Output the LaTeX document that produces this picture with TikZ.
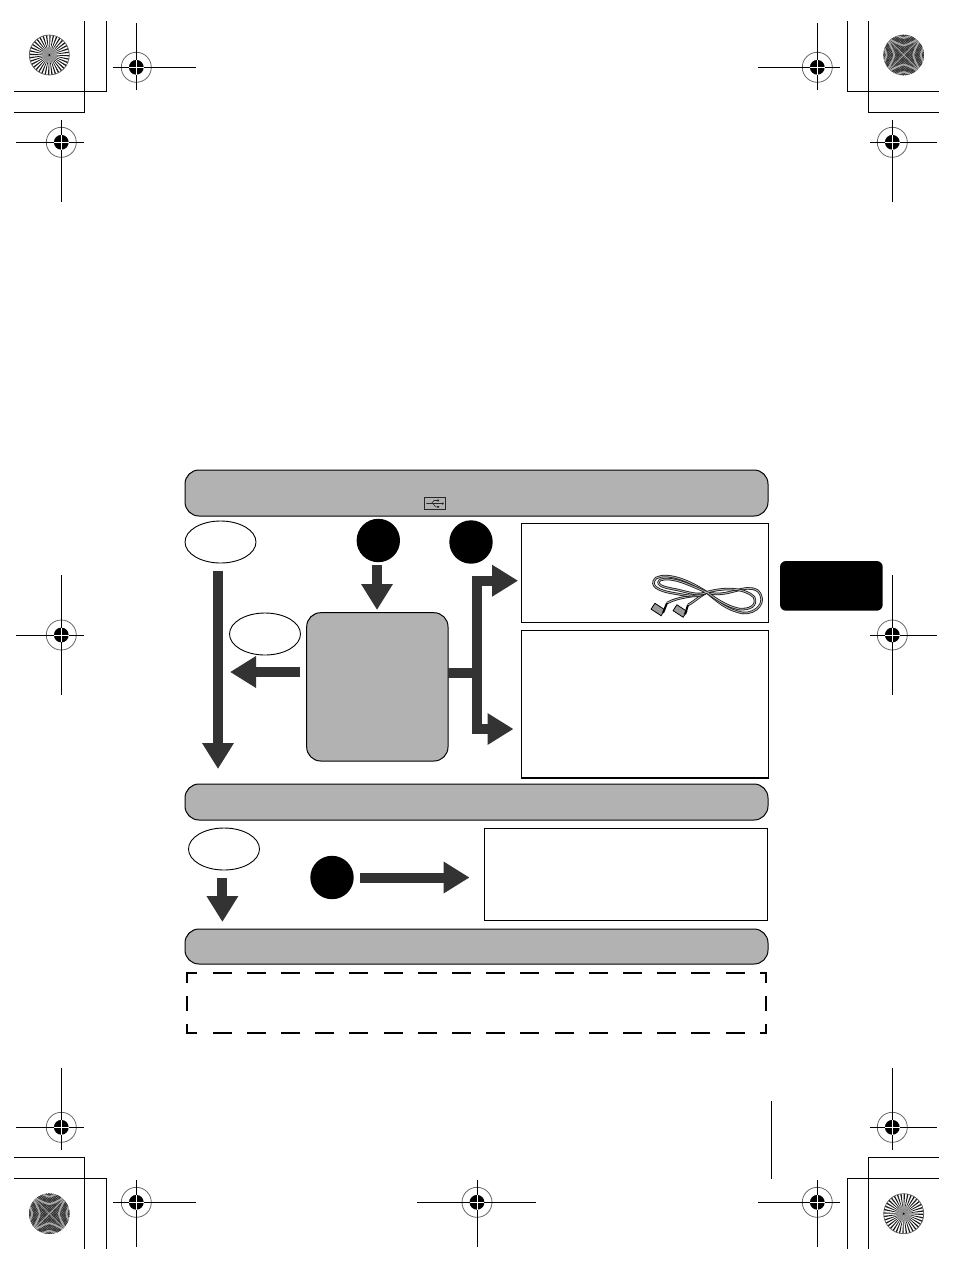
\documentclass[tikz,border=0pt]{standalone}
\usepackage{tikz}
\usetikzlibrary{arrows.meta,shapes.geometric}

\begin{document}
\begin{tikzpicture}[x=1pt,y=-1pt]
    \definecolor{bargray}{HTML}{B2B2B2}
    \definecolor{arrowgray}{HTML}{333333}
    \tikzstyle{bar}=[draw=black,fill=bargray,rounded corners=14pt,line width=1pt,inner sep=0pt,outer sep=0pt,minimum width=583pt]
    \tikzstyle{oval}=[draw=black,fill=white,ellipse,line width=0.9pt,inner sep=0pt,outer sep=0pt,minimum width=71pt,minimum height=42pt]
    \tikzstyle{dot}=[circle,fill=black,inner sep=0pt,outer sep=0pt,minimum size=43.4pt]
    \tikzstyle{frame}=[draw=black,fill=white,line width=1pt,inner sep=0pt,outer sep=0pt]
    \tikzstyle{bigarrow}=[draw=arrowgray,line width=10pt,-{Triangle[length=26pt,width=30pt]}]
    \tikzstyle{stem}=[draw=arrowgray,line width=10pt]
    \tikzstyle{cord}=[draw=black!90,double=black!30,line width=0.8pt,double distance=0.9pt]
    \tikzstyle{plug}=[draw=black,fill=black!40,line width=0.8pt,rotate=-33,inner sep=0pt,outer sep=0pt,minimum width=12pt,minimum height=7pt]
    \tikzstyle{dashside}=[line width=2.7pt,line cap=rect]
    \tikzstyle{band}=[black!25,line width=1.8pt,opacity=0.8]
    \useasboundingbox (0,0) rectangle (954,1270);

    \foreach \px/\py/\pl/\pr/\pu/\pd in {136.3/67.3/113/195.7/23/89.7,61.3/142.3/16/84/120/201.7,
            817.3/67.3/758/840/23/89.7,892.3/142.3/870/936.7/120/201.7,61.3/635/16/84/575/695,
            892.3/635/870/936.7/575/695,61.3/1127.3/16/84/1068/1149.7,136.3/1202.3/113/195.7/1180/1246.7,
            477/1202.3/417/536/1180/1246.7,892.3/1127.3/870/936.7/1068/1149.7,817.3/1202.3/758/840/1180/1246.7}{
        \draw[black!60,line width=0.8pt] (\px,\py) circle (15);
        \draw[black,line width=1pt] (\pl,\py) -- (\pr,\py) (\px,\pu) -- (\px,\pd);
        \fill[black] (\px,\py) circle (7.4);
        \draw[white,line width=1pt] (\px-7.4,\py) -- (\px+7.4,\py) (\px,\py-7.4) -- (\px,\py+7.4);
    }

    \draw[black,line width=1pt] (84.3,21) -- (84.3,112.3) -- (14,112.3) (106.3,21) -- (106.3,91) -- (14,91);
    \draw[black,line width=1pt] (847.3,21) -- (847.3,91) -- (938.7,91) (868.3,21) -- (868.3,112.3) -- (938.7,112.3);
    \draw[black,line width=1pt] (14,1157.3) -- (84.3,1157.3) -- (84.3,1248.7) (14,1178.3) -- (106.3,1178.3) -- (106.3,1248.7);
    \draw[black,line width=1pt] (938.7,1157.3) -- (868.3,1157.3) -- (868.3,1248.7) (938.7,1178.3) -- (847.3,1178.3) -- (847.3,1248.7);
    \draw[black,line width=1pt] (771,1101) -- (771,1178.7);

    \foreach \sx/\sy in {49.3/55,903.7/1213.7}{
        \fill[white] (\sx,\sy) circle (20);
        \foreach \a in {0,10,...,350}
            \fill[black!90] (\sx,\sy) -- +(\a:20) -- +(\a+4:20) -- cycle;
        \fill[black!40,opacity=0.75] (\sx,\sy) circle (8);
        \fill[black] (\sx,\sy) circle (1);
        \draw[black!65,line width=0.7pt] (\sx,\sy) circle (20);
    }
    \foreach \sx/\sy in {903.7/55,49.3/1213.7}{
        \begin{scope}[shift={(\sx,\sy)}]
            \clip (0,0) circle (20.3);
            \fill[black!45] (-21,-21) rectangle (21,21);
            \foreach \k in {-28,-25.5,...,28}{
                \draw[black!80,line width=0.7pt] (\k-30,-30) -- (\k+30,30);
                \draw[black!80,line width=0.7pt] (\k-30,30) -- (\k+30,-30);
            }
            \draw[black!35,line width=0.8pt] (-21,-21) -- (21,21) (-21,21) -- (21,-21);
            \foreach \k in {9.5,17}{
                \draw[band] (\k,0) .. controls (\k+2,-8) and (\k+6,-14) .. (\k+11,-20) (\k,0) .. controls (\k+2,8) and (\k+6,14) .. (\k+11,20);
                \draw[band] (-\k,0) .. controls (-\k-2,-8) and (-\k-6,-14) .. (-\k-11,-20) (-\k,0) .. controls (-\k-2,8) and (-\k-6,14) .. (-\k-11,20);
                \draw[band] (0,\k) .. controls (-8,\k+2) and (-14,\k+6) .. (-20,\k+11) (0,\k) .. controls (8,\k+2) and (14,\k+6) .. (20,\k+11);
                \draw[band] (0,-\k) .. controls (-8,-\k-2) and (-14,-\k-6) .. (-20,-\k-11) (0,-\k) .. controls (8,-\k-2) and (14,-\k-6) .. (20,-\k-11);
            }
        \end{scope}
    }

    \node[bar,minimum height=46pt] (bar1) at (476.5,493) {};
    \node[bar,minimum height=36pt] (bar2) at (476.5,802) {};
    \node[bar,minimum height=35pt] (bar3) at (476.5,946.5) {};
    \node[inner sep=0pt,outer sep=0pt,minimum width=579pt,minimum height=60pt] (note) at (476.5,1003) {};
    \node[draw=black,rounded corners=14pt,fill=bargray,line width=1pt,inner sep=0pt,outer sep=0pt,minimum width=141.3pt,minimum height=148.3pt] (box) at (377.35,686.85) {};
    \node[frame,minimum width=247.4pt,minimum height=99pt] (cablebox) at (645,572.8) {};
    \node[frame,minimum width=247.4pt,minimum height=147.7pt] (pcbox) at (645,704.15) {};
    \draw[black,line width=2pt] (pcbox.south west) -- (pcbox.south east);
    \node[frame,minimum width=283pt,minimum height=92pt] (offbox) at (626.1,874.3) {};
    \node[fill=black,rounded corners=6pt,inner sep=0pt,outer sep=0pt,minimum width=102.7pt,minimum height=49.7pt] (tab) at (831.35,585.85) {};

    \node[oval] (start) at (220.5,542) {};
    \node[oval] (back) at (265,634) {};
    \node[oval] (finish) at (224,849) {};
    \node[dot] (dotone) at (378.3,540.5) {};
    \node[dot] (dottwo) at (471,542) {};
    \node[dot] (dotthree) at (332,877.5) {};
    \coordinate (fork) at (477,672.5);
    \coordinate (leftend) at (230,672);

    \draw[bigarrow,shorten <=8pt,shorten >=15pt] ([xshift=-2.5pt]start.south) -- ([xshift=-2.5pt]start.south |- bar2.north);
    \draw[bigarrow,shorten <=3pt,shorten >=2.7pt] ([xshift=-1.3pt]dotone.south) -- ([xshift=-1.3pt]dotone.south |- box.north);
    \draw[bigarrow,shorten <=6.7pt] (box.west |- leftend) -- (leftend);
    \draw[stem] (box.east |- fork) -- (fork);
    \draw[bigarrow,shorten >=3.2pt] (fork) |- ([yshift=-7.9pt]cablebox.west);
    \draw[bigarrow,shorten >=7.8pt] (fork) |- ([yshift=-24.85pt]pcbox.west);
    \draw[bigarrow,shorten <=8pt,shorten >=7pt] ([xshift=-1.6pt]finish.south) -- ([xshift=-1.6pt]finish.south |- bar3.north);
    \draw[bigarrow,shorten <=6.6pt,shorten >=15pt] (dotthree.east) -- (dotthree.east -| offbox.west);

    \draw[dashside,dash pattern=on 16.3pt off 17.9pt,dash phase=7.2pt] (note.north west) -- (note.north east);
    \draw[dashside,dash pattern=on 16.3pt off 17.9pt,dash phase=7.2pt] (note.south west) -- (note.south east);
    \draw[dashside,dash pattern=on 13pt off 15.4pt,dash phase=4.5pt] (note.north west) -- (note.south west);
    \draw[dashside,dash pattern=on 13pt off 15.4pt,dash phase=4.5pt] (note.north east) -- (note.south east);

    \node[draw=black!85,line width=0.9pt,inner sep=0pt,outer sep=0pt,minimum width=21.4pt,minimum height=12.4pt] (usb) at (435,503.5) {};
    \draw[black!85,line width=0.6pt] ([xshift=2pt]usb.west) -- (436,503.5) (431.5,503.5) -- (434,500.5) -- (437.5,500.5) (433,503.5) -- (435.5,506.8) -- (437.5,506.8) (436,503.5) -- ([xshift=-3pt]usb.east);
    \fill[black!85] ([xshift=-3pt]usb.east) circle (1.2) (437,499.7) rectangle (439,501.3) (437,506) rectangle (439,507.6);

    \draw[cord] (667,603) .. controls (680,596) and (695,597) .. (706.7,592.3) .. controls (728,599) and (745,582) .. (758,591) .. controls (768,602) and (756,614) .. (743,613) .. controls (726,610) and (716,600) .. (706.7,592.3);
    \draw[cord] (688,605) .. controls (695,601) and (700,596) .. (706.7,592.3) .. controls (725,587) and (745,588) .. (754,597) .. controls (758,606) and (749,610) .. (739,609) .. controls (725,606) and (715,598) .. (706.7,592.3);
    \draw[cord] (706.7,592.3) .. controls (690,581) and (668,572) .. (656,578) .. controls (648,586) and (660,591) .. (672,593) .. controls (685,595) and (697,599) .. (706.7,592.3);
    \draw[cord] (706.7,592.3) .. controls (690,585) and (672,576) .. (660,580) .. controls (654,586) and (668,588) .. (678,590) .. controls (690,593) and (700,596) .. (706.7,592.3);
    \node[plug] (plugone) at (658,609.5) {};
    \node[plug] (plugtwo) at (680,611) {};
    \draw[black,line width=2pt] (plugone.east) -- (667,603) (plugtwo.east) -- (688,605);
\end{tikzpicture}
\end{document}
